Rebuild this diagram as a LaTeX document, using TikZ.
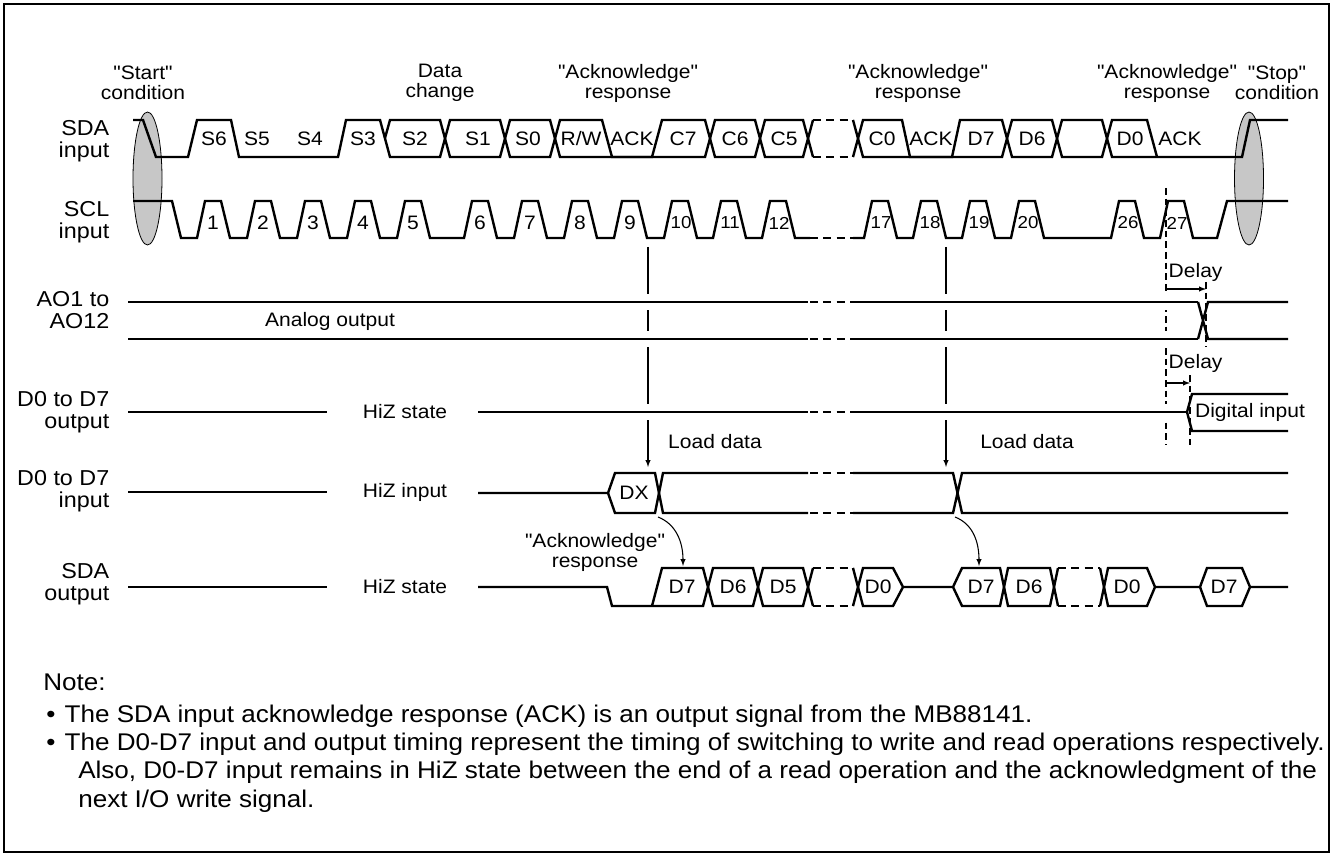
\documentclass[tikz,border=0pt]{standalone}
\usepackage{fontspec}
\setmainfont{Liberation Sans}[FakeStretch=1.08,Ligatures=TeXOff]

\begin{document}
\begin{tikzpicture}[x=0.75pt,y=-0.75pt,auto,>=latex,font=\fontsize{14.6}{15}\selectfont]
    \tikzstyle{sig}=[line width=1.8pt]
    \tikzstyle{gapsig}=[sig,preaction={draw=white,line width=12pt}]
    \tikzstyle{brk}=[sig,dash pattern=on 6pt off 4pt]
    \tikzstyle{probe}=[line width=0.8pt]
    \tikzstyle{dly}=[line width=0.8pt,dash pattern=on 5pt off 3pt]
    \tikzstyle{cond}=[draw=black,fill=black!22,line width=0.6pt]
    \tikzstyle{lbl}=[align=right,anchor=east,font=\fontsize{16.2}{16.5}\selectfont]
    \tikzstyle{hdr}=[align=center]
    \tikzstyle{num}=[font=\fontsize{13}{13}\selectfont]
    \tikzstyle{note}=[anchor=base west,inner sep=0pt,font=\fontsize{18.1}{21}\selectfont]

    \useasboundingbox (0,0) rectangle (1333,855);
    \draw[line width=1.2pt] (4,4) rectangle (1329,852);

    % start / stop condition
    \draw[cond] (147.5,178.5) ellipse [x radius=14.5, y radius=66.5];
    \draw[cond] (1249,178.5) ellipse [x radius=14.5, y radius=66.5];

    \node[hdr] (hstart) at (143,83) {"Start"\\condition};
    \node[hdr] (hdata) at (440,83) {Data\\change};
    \node[hdr] (hack1) at (628,83) {"Acknowledge"\\response};
    \node[hdr] (hack2) at (918,83) {"Acknowledge"\\response};
    \node[hdr] (hack3) at (1167,83) {"Acknowledge"\\response};
    \node[hdr] (hstop) at (1277,83) {"Stop"\\condition};

    \node[lbl] (sdain) at (114,141) {SDA\\input};
    \node[lbl] (sclin) at (114,222) {SCL\\input};
    \node[lbl] (ao) at (114,310) {AO1 to\\AO12};
    \node[lbl] (dout) at (114,412) {D0 to D7\\output};
    \node[lbl] (din) at (114,491) {D0 to D7\\input};
    \node[lbl] (sdaout) at (114,584) {SDA\\output};

    % load markers first, the buses cut gaps in them
    \coordinate (m9) at (648,247);
    \coordinate (ld9) at (648,467);
    \coordinate (m18) at (946,247);
    \coordinate (ld18) at (946,467);
    \draw[probe,->] (m9) -- (ld9);
    \draw[probe,->] (m18) -- (ld18);
    \draw[dly] (1166,188) -- (1166,445);
    \draw[dly] (1206,282) -- (1206,347);
    \draw[dly] (1190,375) -- (1190,445);

    % SDA input
    \draw[sig] (133,120) -- (143,120) -- (156,157) -- (188,157) -- (197,120) -- (231,120) -- (239,157) -- (338,157) -- (346,120) -- (380,120) -- (390,157) -- (440,157) -- (450,120) -- (500,120) -- (510,157) -- (550,157) -- (560,120) -- (602,120) -- (612,157) -- (652,157) -- (662,120) -- (705,120) -- (715,157) -- (755,157) -- (765,120) -- (803,120) -- (813,157);
    \draw[sig] (385,138) -- (390,120) -- (440,120) -- (450,157) -- (500,157) -- (510,120) -- (550,120) -- (560,157) -- (705,157) -- (715,120) -- (755,120) -- (765,157) -- (803,157) -- (813,120);
    \draw[brk] (813,120) -- (853,120) (813,157) -- (853,157);
    \draw[sig] (853,157) -- (863,120) -- (902,120) -- (910,157) -- (952,157) -- (960,120) -- (1002,120) -- (1012,157) -- (1052,157) -- (1062,120) -- (1102,120) -- (1112,157) -- (1242,157) -- (1250,120) -- (1288,120);
    \draw[sig] (853,120) -- (863,157) -- (1002,157) -- (1012,120) -- (1052,120) -- (1062,157) -- (1102,157) -- (1112,120) -- (1147,120) -- (1157,157);
    \foreach \x/\t [count=\i] in {214/S6,257/S5,310/S4,363/S3,415/S2,478/S1,528/S0,632/ACK,683/C7,735/C6,784/C5,882/C0,931/ACK,981/D7,1032/D6,1130/D0,1180/ACK}
        \node (in\i) at (\x,139) {\t};
    \node[inner sep=0pt] (inrw) at (581,139) {R/W};

    % SCL input
    \draw[sig] (133,201) -- (172,201) -- (181,238)
        \foreach \r in {197,247,297,347,397,464,514,564,614,664,713,762} { -- (\r,238) -- ++(8,-37) -- ++(16,0) -- ++(9,37) } -- (810,238);
    \draw[brk] (810,238) -- (853,238);
    \draw[sig] (853,238)
        \foreach \r in {864,913,962,1011,1111,1160} { -- (\r,238) -- ++(8,-37) -- ++(16,0) -- ++(9,37) } -- (1217,238) -- (1227,201) -- (1288,201);
    \foreach \r/\n in {197/1,247/2,297/3,347/4,397/5,464/6,514/7,564/8,614/9}
        \node (scl\n) at (\r+16,223) {\n};
    \foreach \r/\n in {664/10,713/11,762/12,864/17,913/18,962/19,1011/20,1111/26,1160/27}
        \node[num] (scl\n) at (\r+17,223) {\n};

    % AO1 to AO12
    \draw[gapsig] (128,302) -- (808,302) (128,339) -- (808,339);
    \draw[brk] (810,302) -- (853,302) (810,339) -- (853,339);
    \draw[gapsig] (853,302) -- (1198,302) (853,339) -- (1198,339);
    \draw[sig] (1198,302) -- (1208,339) -- (1288,339) (1198,339) -- (1208,302) -- (1288,302);
    \node (aotxt) at (330,321) {Analog output};

    % D0 to D7 output
    \draw[sig] (128,412) -- (327,412);
    \node (hiz1) at (405,412) {HiZ state};
    \draw[gapsig] (478,412) -- (808,412);
    \draw[brk] (810,412) -- (853,412);
    \draw[gapsig] (853,412) -- (1187,412);
    \draw[sig] (1288,394) -- (1192,394) -- (1187,412) -- (1192,431) -- (1288,431);
    \node (digin) at (1250,412) {Digital input};

    % D0 to D7 input
    \draw[sig] (128,492) -- (327,492);
    \node (hiz2) at (405,492) {HiZ input};
    \draw[sig] (478,493) -- (608,493) -- (615,473) -- (655,473) -- (663,513) -- (808,513);
    \draw[sig] (608,493) -- (615,513) -- (655,513) -- (663,473) -- (808,473);
    \draw[brk] (810,473) -- (853,473) (810,513) -- (853,513);
    \draw[sig] (853,473) -- (953,473) -- (962,513) -- (1288,513) (853,513) -- (953,513) -- (962,473) -- (1288,473);
    \node (dx) at (634,493) {DX};

    % SDA output
    \draw[sig] (128,587) -- (327,587);
    \node (hiz3) at (405,587) {HiZ state};
    \draw[sig] (478,587) -- (607,587) -- (612,606) -- (703,606) -- (713,568) -- (753,568) -- (763,606) -- (803,606) -- (813,568);
    \draw[sig] (652,606) -- (662,568) -- (703,568) -- (713,606) -- (753,606) -- (763,568) -- (803,568) -- (813,606);
    \draw[brk] (813,568) -- (853,568) (813,606) -- (853,606);
    \draw[sig] (853,606) -- (863,568) -- (893,568) -- (903,587) -- (953,587) -- (962,568) -- (1000,568) -- (1008,606) -- (1050,606) -- (1058,568);
    \draw[sig] (853,568) -- (863,606) -- (893,606) -- (903,587) (953,587) -- (962,606) -- (1000,606) -- (1008,568) -- (1050,568) -- (1058,606);
    \draw[brk] (1058,568) -- (1100,568) (1058,606) -- (1100,606);
    \draw[sig] (1100,568) -- (1108,606) -- (1147,606) -- (1155,587) -- (1200,587) -- (1207,568) -- (1242,568) -- (1250,587) -- (1288,587);
    \draw[sig] (1100,606) -- (1108,568) -- (1147,568) -- (1155,587) (1200,587) -- (1207,606) -- (1242,606) -- (1250,587);
    \foreach \x/\t [count=\i] in {682/D7,733/D6,783/D5,878/D0,981/D7,1029/D6,1127/D0,1224/D7}
        \node (out\i) at (\x,587) {\t};

    % load / acknowledge
    \node (load1) at (715,442) {Load data};
    \node (load2) at (1027,442) {Load data};
    \node[hdr] (ackr) at (595,552) {"Acknowledge"\\response};
    \coordinate (dxo) at (658,517);
    \coordinate (ackd7) at (683,566);
    \draw[probe,->] (dxo) .. controls (676,524) and (683,542) .. (ackd7);
    \coordinate (sw18) at (955,517);
    \coordinate (ackd7b) at (979,566);
    \draw[probe,->] (sw18) .. controls (973,524) and (979,542) .. (ackd7b);

    % delay
    \coordinate (dl1) at (1166,289);
    \coordinate (dl2) at (1206,289);
    \draw[probe,->] (dl1) -- (dl2);
    \node[anchor=west] (delay1) at (1164,272) {Delay};
    \coordinate (dl3) at (1166,383);
    \coordinate (dl4) at (1190,383);
    \draw[probe,->] (dl3) -- (dl4);
    \node[anchor=west] (delay2) at (1164,363) {Delay};

    % notes
    \node[note] (note) at (43,690) {Note:};
    \node[note] (nt1) at (46,722) {\textbullet\hspace{7pt}The SDA input acknowledge response (ACK) is an output signal from the MB88141.};
    \node[note] (nt2) at (46,750) {\textbullet\hspace{7pt}The D0-D7 input and output timing represent the timing of switching to write and read operations respectively.};
    \node[note] (nt3) at (78,778) {Also, D0-D7 input remains in HiZ state between the end of a read operation and the acknowledgment of the};
    \node[note] (nt4) at (78,807) {next I/O write signal.};
    %\draw[->] (hack1) -- (in8);
\end{tikzpicture}
\end{document}
